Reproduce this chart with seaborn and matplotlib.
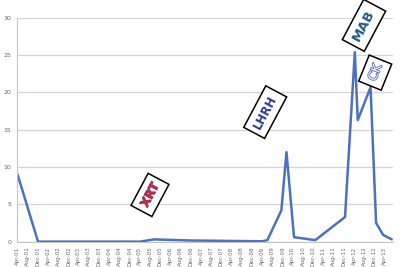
import matplotlib
matplotlib.use("Agg")
import matplotlib.pyplot as plt
import matplotlib.dates as mdates
import matplotlib.patheffects as pe
import seaborn as sns
import pandas as pd

dates = ["2001-04-01", "2001-12-01", "2005-04-01", "2005-09-15", "2006-12-01",
         "2009-04-01", "2009-06-01", "2009-11-15", "2010-01-15", "2010-04-15",
         "2010-12-25", "2011-12-15", "2012-04-10", "2012-05-15", "2012-10-15",
         "2012-12-20", "2013-03-15", "2013-06-25"]
values = [9.0, 0.0, 0.0, 0.3, 0.15,
          0.05, 0.2, 4.2, 12.0, 0.6,
          0.2, 3.3, 25.4, 16.3, 20.7,
          2.5, 0.9, 0.3]
labels = ["XRT", "LHRH", "MAB", "CK"]

df = pd.DataFrame({"date": pd.to_datetime(dates), "value": values})

sns.set_style("white")
fig = plt.figure(figsize=(4, 2.67), dpi=100)
ax = fig.add_axes([0.0425, 0.095, 0.94, 0.838])

sns.lineplot(data=df, x="date", y="value", ax=ax, color="#4A72C0", linewidth=1.8)

ax.set_ylim(0, 30)
ax.set_yticks(range(0, 31, 5))
ax.set_xlim(pd.Timestamp("2001-03-25"), pd.Timestamp("2013-07-10"))
ax.xaxis.set_major_locator(mdates.MonthLocator(bymonth=[4, 8, 12]))
ax.xaxis.set_major_formatter(mdates.DateFormatter("%b-%y"))
ax.set_xlabel("")
ax.set_ylabel("")
ax.grid(axis="y", color="#D8D3CB", linewidth=0.9)
ax.set_axisbelow(True)
for s in ["top", "right"]:
    ax.spines[s].set_visible(False)
ax.spines["left"].set_color("#C8C3BB")
ax.spines["bottom"].set_color("#C8C3BB")
ax.tick_params(axis="x", labelsize=4.0, labelcolor="#666666", rotation=90,
               length=2.5, color="#C8C3BB", pad=1, width=0.6)
ax.tick_params(axis="y", labelsize=4.5, labelcolor="#666666", length=0, pad=4)

box = dict(boxstyle="square,pad=0.45", facecolor="white", edgecolor="black", linewidth=1.1)

fig.text(0.375, 0.27, labels[0], rotation=62, ha="center", va="center", fontsize=8.5,
         fontweight="bold", color="#E0202A", bbox=box,
         path_effects=[pe.withStroke(linewidth=0.8, foreground="#4050A0")])
fig.text(0.663, 0.58, labels[1], rotation=62, ha="center", va="center", fontsize=8.5,
         fontweight="bold", color="#2B3990", bbox=box)
fig.text(0.91, 0.905, labels[2], rotation=62, ha="center", va="center", fontsize=9.5,
         fontweight="bold", color="#1F5A8A", bbox=box)
fig.text(0.938, 0.728, labels[3], rotation=68, ha="center", va="center", fontsize=9,
         color="white", bbox=box,
         path_effects=[pe.withStroke(linewidth=1.2, foreground="#5068B8")])

fig.savefig("out.png", dpi=100)
